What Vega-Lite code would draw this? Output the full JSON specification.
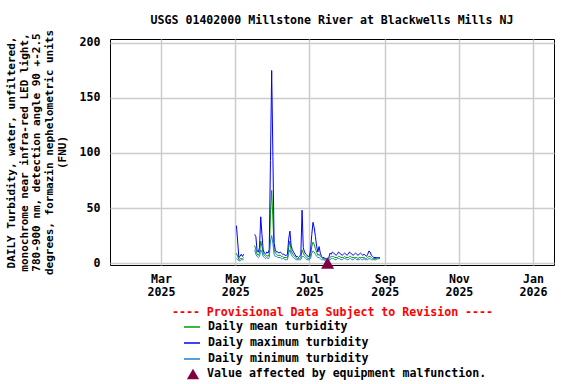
{
  "$schema": "https://vega.github.io/schema/vega-lite/v6.json",
  "width": 444,
  "height": 226,
  "autosize": {"type": "none"},
  "padding": {"left": 110, "top": 39, "right": 22, "bottom": 119},
  "background": "white",
  "title": {
    "text": "USGS 01402000 Millstone River at Blackwells Mills NJ",
    "font": "DejaVu Sans Mono",
    "fontSize": 11.6,
    "fontWeight": "bold",
    "color": "black",
    "anchor": "middle",
    "offset": 3
  },
  "config": {
    "view": {"stroke": "black", "strokeWidth": 1},
    "font": "DejaVu Sans Mono",
    "axis": {
      "labelFont": "DejaVu Sans Mono",
      "labelFontSize": 11.6,
      "labelFontWeight": "bold",
      "labelColor": "black",
      "titleFont": "DejaVu Sans Mono",
      "titleFontSize": 11.6,
      "titleFontWeight": "bold",
      "titleColor": "black",
      "gridColor": "#cccccc",
      "gridWidth": 1.5,
      "ticks": false,
      "domain": false
    },
    "legend": {
      "labelFont": "DejaVu Sans Mono",
      "labelFontSize": 11.6,
      "labelFontWeight": "bold",
      "labelColor": "black",
      "labelLimit": 400
    }
  },
  "datasets": {
    "turbidity": [
      {"date": "2025-05-02", "max": 34, "mean": 9, "min": 4},
      {"date": "2025-05-03", "max": 20, "mean": 6, "min": 3},
      {"date": "2025-05-04", "max": 5, "mean": 3, "min": 2},
      {"date": "2025-05-05", "max": 6, "mean": 4, "min": 2},
      {"date": "2025-05-06", "max": 8, "mean": 4, "min": 3},
      {"date": "2025-05-07", "max": 6, "mean": 4, "min": 3},
      {"date": "2025-05-08", "max": 8, "mean": 5, "min": 3},
      {"date": "2025-05-09", "max": null, "mean": null, "min": null},
      {"date": "2025-05-16", "max": null, "mean": null, "min": null},
      {"date": "2025-05-17", "max": 26, "mean": 16, "min": 12},
      {"date": "2025-05-18", "max": 24, "mean": 12, "min": 8},
      {"date": "2025-05-19", "max": 11, "mean": 8, "min": 6},
      {"date": "2025-05-20", "max": 10, "mean": 7, "min": 5},
      {"date": "2025-05-21", "max": 14, "mean": 9, "min": 6},
      {"date": "2025-05-22", "max": 42, "mean": 20, "min": 12},
      {"date": "2025-05-23", "max": 26, "mean": 15, "min": 10},
      {"date": "2025-05-24", "max": 12, "mean": 9, "min": 6},
      {"date": "2025-05-25", "max": 9, "mean": 7, "min": 5},
      {"date": "2025-05-26", "max": 8, "mean": 6, "min": 4},
      {"date": "2025-05-27", "max": 10, "mean": 7, "min": 5},
      {"date": "2025-05-28", "max": 9, "mean": 6, "min": 4},
      {"date": "2025-05-29", "max": 12, "mean": 8, "min": 5},
      {"date": "2025-05-30", "max": 93, "mean": 45, "min": 20},
      {"date": "2025-05-31", "max": 175, "mean": 66, "min": 25},
      {"date": "2025-06-01", "max": 97, "mean": 40, "min": 18},
      {"date": "2025-06-02", "max": 18, "mean": 12, "min": 8},
      {"date": "2025-06-03", "max": 12, "mean": 9, "min": 6},
      {"date": "2025-06-04", "max": 10, "mean": 8, "min": 6},
      {"date": "2025-06-05", "max": 10, "mean": 7, "min": 5},
      {"date": "2025-06-06", "max": 9, "mean": 7, "min": 5},
      {"date": "2025-06-07", "max": 10, "mean": 7, "min": 5},
      {"date": "2025-06-08", "max": 9, "mean": 6, "min": 4},
      {"date": "2025-06-09", "max": 8, "mean": 6, "min": 4},
      {"date": "2025-06-10", "max": 8, "mean": 5, "min": 4},
      {"date": "2025-06-11", "max": 7, "mean": 5, "min": 3},
      {"date": "2025-06-12", "max": 7, "mean": 5, "min": 3},
      {"date": "2025-06-13", "max": 8, "mean": 5, "min": 3},
      {"date": "2025-06-14", "max": 22, "mean": 14, "min": 9},
      {"date": "2025-06-15", "max": 29, "mean": 20, "min": 12},
      {"date": "2025-06-16", "max": 16, "mean": 11, "min": 8},
      {"date": "2025-06-17", "max": 12, "mean": 9, "min": 6},
      {"date": "2025-06-18", "max": 10, "mean": 7, "min": 5},
      {"date": "2025-06-19", "max": 8, "mean": 6, "min": 4},
      {"date": "2025-06-20", "max": 6, "mean": 5, "min": 3},
      {"date": "2025-06-21", "max": 6, "mean": 4, "min": 3},
      {"date": "2025-06-22", "max": 5, "mean": 4, "min": 3},
      {"date": "2025-06-23", "max": 6, "mean": 4, "min": 3},
      {"date": "2025-06-24", "max": 8, "mean": 5, "min": 3},
      {"date": "2025-06-25", "max": 48, "mean": 12, "min": 6},
      {"date": "2025-06-26", "max": 14, "mean": 9, "min": 6},
      {"date": "2025-06-27", "max": 10, "mean": 7, "min": 5},
      {"date": "2025-06-28", "max": 8, "mean": 6, "min": 4},
      {"date": "2025-06-29", "max": 7, "mean": 5, "min": 3},
      {"date": "2025-06-30", "max": 6, "mean": 4, "min": 3},
      {"date": "2025-07-01", "max": 6, "mean": 4, "min": 3},
      {"date": "2025-07-02", "max": 12, "mean": 7, "min": 4},
      {"date": "2025-07-03", "max": 26, "mean": 15, "min": 9},
      {"date": "2025-07-04", "max": 37, "mean": 19, "min": 11},
      {"date": "2025-07-05", "max": 32, "mean": 17, "min": 10},
      {"date": "2025-07-06", "max": 24, "mean": 13, "min": 8},
      {"date": "2025-07-07", "max": 15, "mean": 10, "min": 6},
      {"date": "2025-07-08", "max": 10, "mean": 7, "min": 5},
      {"date": "2025-07-09", "max": 15, "mean": 8, "min": 5},
      {"date": "2025-07-10", "max": 9, "mean": 6, "min": 4},
      {"date": "2025-07-11", "max": 6, "mean": 5, "min": 3},
      {"date": "2025-07-12", "max": 5, "mean": 4, "min": 3},
      {"date": "2025-07-13", "max": 5, "mean": 4, "min": 3},
      {"date": "2025-07-14", "max": 4, "mean": 3, "min": 2},
      {"date": "2025-07-15", "max": 4, "mean": 3, "min": 2},
      {"date": "2025-07-16", "max": 4, "mean": 3, "min": 2},
      {"date": "2025-07-17", "max": 5, "mean": 4, "min": 3},
      {"date": "2025-07-18", "max": 9, "mean": 5, "min": 3},
      {"date": "2025-07-19", "max": 8, "mean": 6, "min": 4},
      {"date": "2025-07-20", "max": 10, "mean": 6, "min": 4},
      {"date": "2025-07-21", "max": 9, "mean": 6, "min": 4},
      {"date": "2025-07-22", "max": 8, "mean": 5, "min": 3},
      {"date": "2025-07-23", "max": 7, "mean": 5, "min": 3},
      {"date": "2025-07-24", "max": 8, "mean": 5, "min": 4},
      {"date": "2025-07-25", "max": 10, "mean": 6, "min": 4},
      {"date": "2025-07-26", "max": 9, "mean": 6, "min": 4},
      {"date": "2025-07-27", "max": 8, "mean": 5, "min": 3},
      {"date": "2025-07-28", "max": 7, "mean": 5, "min": 3},
      {"date": "2025-07-29", "max": 8, "mean": 5, "min": 4},
      {"date": "2025-07-30", "max": 9, "mean": 6, "min": 4},
      {"date": "2025-07-31", "max": 8, "mean": 5, "min": 4},
      {"date": "2025-08-01", "max": 7, "mean": 5, "min": 3},
      {"date": "2025-08-02", "max": 8, "mean": 5, "min": 3},
      {"date": "2025-08-03", "max": 10, "mean": 6, "min": 4},
      {"date": "2025-08-04", "max": 9, "mean": 6, "min": 4},
      {"date": "2025-08-05", "max": 8, "mean": 5, "min": 3},
      {"date": "2025-08-06", "max": 7, "mean": 5, "min": 3},
      {"date": "2025-08-07", "max": 8, "mean": 5, "min": 4},
      {"date": "2025-08-08", "max": 9, "mean": 5, "min": 4},
      {"date": "2025-08-09", "max": 8, "mean": 5, "min": 3},
      {"date": "2025-08-10", "max": 7, "mean": 4, "min": 3},
      {"date": "2025-08-11", "max": 8, "mean": 5, "min": 3},
      {"date": "2025-08-12", "max": 9, "mean": 5, "min": 4},
      {"date": "2025-08-13", "max": 8, "mean": 5, "min": 3},
      {"date": "2025-08-14", "max": 7, "mean": 5, "min": 3},
      {"date": "2025-08-15", "max": 8, "mean": 5, "min": 4},
      {"date": "2025-08-16", "max": 7, "mean": 4, "min": 3},
      {"date": "2025-08-17", "max": 6, "mean": 4, "min": 3},
      {"date": "2025-08-18", "max": 8, "mean": 5, "min": 3},
      {"date": "2025-08-19", "max": 11, "mean": 6, "min": 4},
      {"date": "2025-08-20", "max": 10, "mean": 6, "min": 4},
      {"date": "2025-08-21", "max": 7, "mean": 5, "min": 3},
      {"date": "2025-08-22", "max": 6, "mean": 4, "min": 3},
      {"date": "2025-08-23", "max": 5, "mean": 4, "min": 3},
      {"date": "2025-08-24", "max": 5, "mean": 4, "min": 3},
      {"date": "2025-08-25", "max": 5, "mean": 4, "min": 3},
      {"date": "2025-08-26", "max": 5, "mean": 4, "min": 4},
      {"date": "2025-08-27", "max": 5, "mean": 4, "min": 4},
      {"date": "2025-08-28", "max": 5, "mean": 4, "min": 4}
    ],
    "malfunction": [
      {"date": "2025-07-16", "flag": "malfunction", "value": 0}
    ]
  },
  "layer": [
    {
      "data": {"name": "turbidity"},
      "transform": [{"fold": ["mean", "max", "min"], "as": ["series", "value"]}],
      "mark": {"type": "line", "strokeWidth": 1, "clip": true},
      "encoding": {
        "x": {
          "field": "date",
          "type": "temporal",
          "scale": {
            "type": "utc",
            "domain": [
              {"year": 2025, "month": 1, "date": 18, "utc": true},
              {"year": 2026, "month": 1, "date": 18, "hours": 6, "utc": true}
            ]
          },
          "axis": {
            "title": "---- Provisional Data Subject to Revision ----",
            "titleColor": "#ff0000",
            "titlePadding": 9,
            "labelPadding": 8,
            "grid": true,
            "values": [
              {"year": 2025, "month": 3, "date": 1, "utc": true},
              {"year": 2025, "month": 5, "date": 1, "utc": true},
              {"year": 2025, "month": 7, "date": 1, "utc": true},
              {"year": 2025, "month": 9, "date": 1, "utc": true},
              {"year": 2025, "month": 11, "date": 1, "utc": true},
              {"year": 2026, "month": 1, "date": 1, "utc": true}
            ],
            "labelExpr": "[utcFormat(datum.value, '%b'), utcFormat(datum.value, '%Y')]",
            "labelLineHeight": 13
          }
        },
        "y": {
          "field": "value",
          "type": "quantitative",
          "scale": {"domain": [-1.8, 203.6], "nice": false, "zero": false},
          "axis": {
            "values": [0, 50, 100, 150, 200],
            "grid": true,
            "labelPadding": 10,
            "titlePadding": 12,
            "titleFontSize": 11,
            "titleLineHeight": 12.6,
            "title": [
              "DAILY Turbidity, water, unfiltered,",
              "monochrome near infra-red LED light,",
              "780-900 nm, detection angle 90 +-2.5",
              "degrees, formazin nephelometric units",
              "(FNU)"
            ]
          }
        },
        "color": {
          "field": "series",
          "type": "nominal",
          "scale": {
            "domain": ["mean", "max", "min"],
            "range": ["#00a000", "#0000ff", "#1e82d2"]
          },
          "legend": {
            "orient": "none",
            "legendX": 73,
            "legendY": 279,
            "title": null,
            "symbolType": "stroke",
            "symbolSize": 256,
            "symbolStrokeWidth": 1.5,
            "rowPadding": 1,
            "labelOffset": 7,
            "labelExpr": "datum.value === 'mean' ? 'Daily mean turbidity' : datum.value === 'max' ? 'Daily maximum turbidity' : 'Daily minimum turbidity'"
          }
        }
      }
    },
    {
      "data": {"name": "malfunction"},
      "mark": {"type": "point", "filled": true, "size": 170, "opacity": 1, "color": "#800040"},
      "encoding": {
        "x": {"field": "date", "type": "temporal"},
        "y": {"field": "value", "type": "quantitative"},
        "shape": {
          "field": "flag",
          "type": "nominal",
          "scale": {"domain": ["malfunction"], "range": ["triangle-up"]},
          "legend": {
            "orient": "none",
            "legendX": 76,
            "legendY": 328,
            "title": null,
            "symbolSize": 150,
            "symbolFillColor": "#800040",
            "symbolStrokeColor": "#800040",
            "symbolOpacity": 1,
            "labelOffset": 7,
            "labelExpr": "'Value affected by equipment malfunction.'"
          }
        }
      }
    }
  ]
}
